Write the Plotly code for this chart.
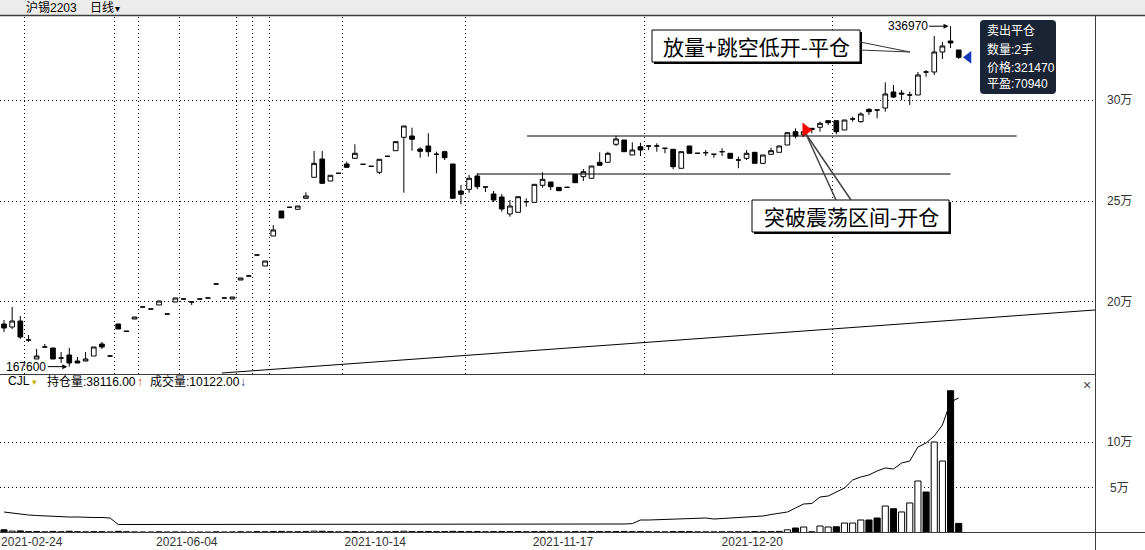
import plotly.graph_objects as go

W, H = 1145, 550

# ---------------- data ----------------
opens = [
    188810, 187320, 190300, 180900, 171400, 177370, 176870, 171900, 173390, 170400,
    170400, 172890, 178860, 172890, 188810, 185330, 191300, 197270, 196270, 198260,
    193790, 199760, 201250, 199760, 201250, 201750, 208710, 201750, 201250, 210700,
    212690, 223140, 217670, 232590, 245030, 246870, 245870, 251350, 261790, 270900,
    259950, 263780, 268410, 271230, 268260, 267260, 264280, 272240, 275030, 281690,
    282340, 275870, 277370, 273300, 274530, 268410, 254980, 255820, 262440, 256970,
    253490, 251990, 243540, 244380, 249660, 249340, 257810, 259460, 256800, 256800,
    263290, 262090, 261300, 269250, 269250, 278210, 280350, 272890, 277030, 277370,
    277370, 276220, 275720, 266270, 277370, 273730, 274030, 273230, 274530, 273730,
    270400, 271230, 274230, 268740, 273230, 274230, 277860, 284480, 283000, 286170,
    286670, 289950, 289950, 285330, 290800, 289470, 295620, 295280, 296270, 304230,
    303730, 302740, 302740, 314180, 314180, 324130, 329600, 325130,
]
highs = [
    190800, 197270, 192790, 183340, 176370, 178860, 176870, 174880, 176870, 172390,
    174880, 177370, 179860, 173390, 188810, 185330, 192290, 197270, 196270, 200250,
    193790, 201750, 201250, 199760, 201250, 201750, 208710, 201750, 202240, 211700,
    212690, 223140, 220150, 238060, 245030, 246870, 247520, 254330, 274880, 274880,
    262790, 263780, 269550, 278210, 268260, 267260, 270750, 272240, 279520, 287310,
    286470, 276720, 283680, 274530, 275030, 268410, 257960, 262940, 263780, 256970,
    254980, 253490, 250500, 252140, 251340, 258300, 264280, 259460, 256800, 256800,
    263290, 265920, 267410, 274230, 274530, 282490, 280350, 279210, 279010, 277370,
    278710, 276220, 275720, 274530, 277370, 273730, 275370, 273230, 276220, 273730,
    272040, 275370, 274230, 272890, 276520, 277370, 283980, 286170, 285500, 286170,
    289470, 289950, 289950, 290300, 291950, 294130, 296120, 295280, 309050, 307710,
    305230, 304400, 314180, 315170, 332090, 329110, 336970, 325130,
]
lows = [
    184830, 186320, 181350, 179860, 171400, 177370, 171400, 169410, 167600, 169410,
    170400, 172890, 176370, 172890, 186320, 185100, 191300, 197270, 196270, 198260,
    193790, 199760, 201250, 198260, 201250, 201750, 208710, 201750, 201250, 210700,
    212690, 223140, 217670, 232590, 241550, 246870, 245870, 251350, 261790, 258790,
    259950, 263780, 266770, 271230, 268260, 267260, 263290, 272240, 275030, 254130,
    275030, 271540, 272040, 263780, 270400, 251350, 248360, 254130, 255820, 254480,
    249510, 244700, 242200, 244380, 247180, 249340, 256620, 255470, 255130, 256800,
    259110, 259950, 261300, 267570, 269250, 277370, 274530, 272890, 272390, 275370,
    274530, 273730, 265770, 266270, 273730, 273730, 272390, 271540, 272390, 271230,
    266270, 270400, 268740, 268740, 272890, 274230, 277860, 281190, 282500, 283680,
    284480, 287810, 283180, 285330, 289470, 288960, 292790, 291150, 294430, 301250,
    300250, 297760, 302740, 311840, 312690, 320650, 326120, 320650,
]
closes = [
    186820, 190300, 182340, 180850, 172890, 177370, 171400, 171900, 169410, 169410,
    171400, 177370, 177370, 172890, 186320, 185100, 192290, 197270, 196270, 200250,
    193790, 201750, 201250, 199760, 201250, 201750, 208710, 201750, 202240, 211700,
    212690, 223140, 220150, 235580, 241550, 246870, 247520, 252490, 268740, 258790,
    262790, 263780, 266770, 273730, 268260, 267260, 270750, 272240, 279520, 287310,
    280700, 274730, 274530, 273230, 271540, 251350, 253340, 261300, 257120, 256970,
    250500, 246020, 247520, 252140, 249660, 258300, 260790, 257120, 255130, 256800,
    259110, 264580, 267410, 267760, 273730, 280850, 274530, 275370, 275370, 277370,
    277370, 276220, 267070, 274530, 273730, 273730, 274030, 273230, 274530, 271230,
    270400, 273730, 268740, 272890, 275030, 277370, 283980, 282340, 284500, 285670,
    288660, 288950, 284480, 290300, 290800, 293290, 294430, 295280, 303240, 301740,
    303240, 302740, 312690, 314180, 324130, 327120, 328610, 321470,
]
volumes = [
    3000, 1500, 1800, 1000, 1100, 800, 1200, 900, 1400, 900, 800, 1000,
    900, 700, 1300, 800, 700, 600, 600, 800, 600, 700, 600, 500,
    600, 500, 800, 600, 700, 900, 700, 1000, 900, 1100, 1200, 900,
    900, 1000, 1500, 1400, 1000, 800, 900, 1000, 800, 700, 900, 800,
    1000, 1400, 1100, 1000, 1100, 900, 1000, 1300, 1100, 1000, 1100, 900,
    1000, 1100, 1000, 1100, 900, 1000, 1100, 1000, 900, 800, 1000, 1000,
    1100, 1000, 1000, 1100, 1200, 1000, 1000, 900, 900, 800, 1000, 1100,
    1000, 800, 800, 800, 900, 800, 900, 800, 1000, 900, 1000, 1200,
    3000, 5000, 6100, 800, 7200, 6100, 6400, 10500, 10500, 13900, 13900,
    16100, 29400, 26400, 22800, 32800, 57200, 45000, 100500, 79400, 157500, 10122,
]
# colour of the last 22 volume bars as seen (u = hollow, d = solid)
vol_dir_tail = ["u", "d", "u", "d", "u", "u", "d", "u", "u", "u", "d",
                "d", "u", "d", "u", "u", "u", "d", "u", "u", "d", "d"]
open_interest = [
    22780, 21670, 20000, 19440, 18890, 18330, 18330, 17780, 17220, 17220,
    16670, 16670, 16670, 16110,
    8890, 8890, 8890, 8890, 8890, 8890, 8890, 8890, 8890, 8890,
    8890, 8890, 8890, 8890, 8890, 8890, 8890, 8890, 8890, 8890,
    8890, 8890, 8890, 8890, 8890, 8890, 8890, 8890, 8890, 8890,
    8890, 8890, 8890, 8890, 8890, 8890, 8890, 8890, 8890, 8890,
    8890, 8890, 8890, 8890, 8890, 8890, 8890, 8890, 8890, 8890,
    8890, 8890, 8890, 8890, 8890, 8890, 8890, 8890, 8890, 8890,
    8890, 8890,
    9440, 9890, 13890, 13890, 14220, 14440, 14670, 15000, 15220, 15550,
    16110, 15000, 15550, 16110, 16330, 16670, 17220, 18330, 20000, 21110,
    22780, 27220, 31670, 32220, 39440, 40550, 45000, 49440, 58330, 61670,
    63890, 68330, 71670, 70550, 77220, 79440, 95000, 99440, 107220, 119440,
    145000, 149440,
]
date_tick_pos = [3.4, 22.4, 45.5, 68.5, 91.7]
date_tick_txt = ["2021-02-24", "2021-06-04", "2021-10-14", "2021-11-17", "2021-12-20"]
month_breaks = [2.5, 13.5, 16.5, 21.5, 28.5, 30.5, 32.5, 41.5, 56.5, 78.5, 101.5]
price_ticks = [200000, 250000, 300000]
price_tick_txt = ["20万", "25万", "30万"]
vol_ticks = [50000, 100000]
vol_tick_txt = ["5万", "10万"]
range_upper = dict(start=64.1, end=124.1, price=282340)
range_lower = dict(start=58.0, end=116.0, price=263430)
trend_x = [26.7, 133.7]
trend_y = [164430, 195780]
buy_signal = dict(i=98, price=285330)
sell_signal = dict(i=117, price=321470, qty=2, pnl=70940)
high_mark = dict(i=116, price=336970)
low_mark = dict(i=8, price=167600)

# ---------------- figure ----------------
n = len(opens)
for arr in (highs, lows, closes, volumes, open_interest):
    assert len(arr) == n, len(arr)
idx = list(range(n))
UI = "Liberation Sans, Noto Sans CJK SC, sans-serif"
CJK_BOLD = "Noto Sans CJK SC, sans-serif"


def px(x):
    return x / W


def py(y):
    return 1 - y / H


vol_dirs = ["u" if c >= o else "d" for o, c in zip(opens, closes)]
vol_dirs[n - len(vol_dir_tail):] = vol_dir_tail
vol_colors = ["white" if d == "u" else "black" for d in vol_dirs]

fig = go.Figure()
fig.add_trace(go.Candlestick(
    x=idx, open=opens, high=highs, low=lows, close=closes,
    increasing=dict(fillcolor="white", line=dict(color="black", width=1)),
    decreasing=dict(fillcolor="black", line=dict(color="black", width=1)),
    whiskerwidth=0, xaxis="x", yaxis="y", hoverinfo="skip", showlegend=False,
))
fig.add_trace(go.Scatter(
    x=idx, y=open_interest, mode="lines", line=dict(color="black", width=1),
    xaxis="x2", yaxis="y2", hoverinfo="skip", showlegend=False,
))
fig.add_trace(go.Bar(
    x=idx, y=volumes, marker=dict(color=vol_colors, line=dict(color="black", width=1)),
    xaxis="x2", yaxis="y2", hoverinfo="skip", showlegend=False,
))
fig.add_trace(go.Scatter(
    x=[buy_signal["i"] + 0.25], y=[buy_signal["price"]], mode="markers",
    marker=dict(symbol="triangle-right", size=13, color="#ff0000"),
    xaxis="x", yaxis="y", hoverinfo="skip", showlegend=False,
))
fig.add_trace(go.Scatter(
    x=[sell_signal["i"] + 1.2], y=[sell_signal["price"]], mode="markers",
    marker=dict(symbol="triangle-left", size=11, color="#1238b8"),
    xaxis="x", yaxis="y", hoverinfo="skip", showlegend=False,
))

xr = [-4 / 8.16, (1095 - 4) / 8.16]
main_dom = [py(374), py(17)]
vol_dom = [py(532.5), py(388)]
yr_main = [350000 - 497.5 * 374, 350000 - 497.5 * 17]
yr_vol = [0, (532.5 - 388) * 1111]

shapes = []
# header band
shapes.append(dict(type="rect", xref="paper", yref="paper", x0=0, x1=1, y0=py(15), y1=1,
                   fillcolor="#ececec", line=dict(width=0), layer="below"))
shapes.append(dict(type="line", xref="paper", yref="paper", x0=0, x1=1, y0=py(15.5), y1=py(15.5),
                   line=dict(color="#3c3c3c", width=1.5)))
shapes.append(dict(type="line", xref="paper", yref="paper", x0=px(1095.5), x1=px(1095.5), y0=py(15.5), y1=0,
                   line=dict(color="#3c3c3c", width=1)))
shapes.append(dict(type="line", xref="paper", yref="paper", x0=0, x1=px(1095.5), y0=py(374.5), y1=py(374.5),
                   line=dict(color="#3c3c3c", width=1)))
shapes.append(dict(type="line", xref="paper", yref="paper", x0=0, x1=1, y0=py(532.5), y1=py(532.5),
                   line=dict(color="#3c3c3c", width=1)))
# range lines and trend line
for r in (range_upper, range_lower):
    shapes.append(dict(type="line", xref="x", yref="y", x0=r["start"], x1=r["end"],
                       y0=r["price"], y1=r["price"], line=dict(color="black", width=1)))
shapes.append(dict(type="line", xref="x", yref="y", x0=trend_x[0], x1=trend_x[1],
                   y0=trend_y[0], y1=trend_y[1], line=dict(color="black", width=1)))


# callout boxes
def callout_box(x0, y0, x1, y1):
    shapes.append(dict(type="rect", xref="paper", yref="paper", x0=px(x0 + 2), x1=px(x1 + 2),
                       y0=py(y1 + 2), y1=py(y0 + 2), fillcolor="black", line=dict(width=0)))
    shapes.append(dict(type="rect", xref="paper", yref="paper", x0=px(x0), x1=px(x1),
                       y0=py(y1), y1=py(y0), fillcolor="white", line=dict(color="black", width=1)))


def seg(x0, y0, x1, y1, color="#333", width=1):
    shapes.append(dict(type="line", xref="paper", yref="paper", x0=px(x0), x1=px(x1),
                       y0=py(y0), y1=py(y1), line=dict(color=color, width=width)))


callout_box(652, 30, 860, 62)
seg(860, 42, 910, 52)
seg(860, 50, 910, 52)
callout_box(752, 200, 949, 232)
seg(806, 134, 836, 200, "#444", 1.5)
seg(806, 134, 851, 200, "#444", 1.5)

# tooltip (rounded rectangle)
tx0, ty0, tx1, ty1, rr = 980, 20, 1056, 94, 4
path = (f"M {px(tx0 + rr)},{py(ty0)} L {px(tx1 - rr)},{py(ty0)} "
        f"Q {px(tx1)},{py(ty0)} {px(tx1)},{py(ty0 + rr)} L {px(tx1)},{py(ty1 - rr)} "
        f"Q {px(tx1)},{py(ty1)} {px(tx1 - rr)},{py(ty1)} L {px(tx0 + rr)},{py(ty1)} "
        f"Q {px(tx0)},{py(ty1)} {px(tx0)},{py(ty1 - rr)} L {px(tx0)},{py(ty0 + rr)} "
        f"Q {px(tx0)},{py(ty0)} {px(tx0 + rr)},{py(ty0)} Z")
shapes.append(dict(type="path", xref="paper", yref="paper", path=path,
                   fillcolor="#1b2434", line=dict(width=0)))

ann = []


def txt(x, y, s, size=12, color="#000", anchor="left", family=UI):
    ann.append(dict(x=px(x), y=py(y), xref="paper", yref="paper", text=s, showarrow=False,
                    xanchor=anchor, yanchor="middle", font=dict(size=size, color=color, family=family)))


txt(24, 8, "沪锡2203")
txt(88, 8, "日线")
txt(113, 9, "▾", size=10)
txt(6, 381, "CJL")
txt(30, 382, "▾", size=9, color="#c8b400")
txt(45, 381, "持仓量:38116.00")
txt(135, 382, "↑", color="#e04010")
txt(148, 381, "成交量:10122.00")
txt(238, 382, "↓", color="#1a3a9a")
txt(1087, 385, "×", size=14, color="#444", anchor="center")
txt(756, 46, "放量+跳空低开-平仓", size=21, family=CJK_BOLD, anchor="center")
txt(851, 216, "突破震荡区间-开仓", size=21, family=CJK_BOLD, anchor="center")
txt(985, 31, "卖出平仓", color="white")
txt(985, 49, f"数量:{sell_signal['qty']}手", color="white")
txt(985, 67, f"价格:{sell_signal['price']}", color="white")
txt(985, 84, f"平盈:{sell_signal['pnl']}", color="white")

for v, t in zip(price_ticks, price_tick_txt):
    ann.append(dict(x=px(1119), y=v, xref="paper", yref="y", text=t, showarrow=False,
                    xanchor="center", yanchor="middle", font=dict(size=12, color="#333", family=UI)))
for v, t in zip(vol_ticks, vol_tick_txt):
    ann.append(dict(x=px(1119), y=v, xref="paper", yref="y2", text=t, showarrow=False,
                    xanchor="center", yanchor="middle", font=dict(size=12, color="#333", family=UI)))

for m in (high_mark, low_mark):
    ann.append(dict(x=m["i"], y=m["price"], xref="x", yref="y", text=str(m["price"]),
                    showarrow=True, arrowhead=2, arrowsize=1, arrowwidth=1, arrowcolor="black",
                    ax=-43, ay=0, standoff=2, font=dict(size=12, color="#000", family=UI)))

fig.update_layout(
    width=W, height=H, margin=dict(l=0, r=0, t=0, b=0),
    paper_bgcolor="white", plot_bgcolor="white", showlegend=False,
    boxgap=0.18, bargap=0.25,
    shapes=shapes, annotations=ann,
    xaxis=dict(domain=[0, px(1095)], range=xr, anchor="y", showticklabels=False,
               showgrid=False, zeroline=False, showline=False, ticks="",
               rangeslider=dict(visible=False), fixedrange=True,
               minor=dict(tickmode="array", tickvals=month_breaks, showgrid=True,
                          gridcolor="#000", griddash="1px,3px", gridwidth=1, ticks="")),
    yaxis=dict(domain=main_dom, range=yr_main, anchor="x", tickmode="array",
               tickvals=price_ticks, showticklabels=False, showgrid=True,
               gridcolor="#000", griddash="1px,3px", gridwidth=1, zeroline=False,
               showline=False, ticks="", fixedrange=True),
    xaxis2=dict(domain=[0, px(1095)], range=xr, anchor="y2", tickmode="array",
                tickvals=date_tick_pos, ticktext=date_tick_txt, showgrid=False,
                zeroline=False, showline=False, ticks="",
                tickfont=dict(size=12, color="#333", family=UI), fixedrange=True,
                automargin=False),
    yaxis2=dict(domain=vol_dom, range=yr_vol, anchor="x2", tickmode="array",
                tickvals=vol_ticks, showticklabels=False, showgrid=True,
                gridcolor="#000", griddash="1px,3px", gridwidth=1, zeroline=False,
                showline=False, ticks="", fixedrange=True),
)

fig.write_html("out.html", config={"displayModeBar": False},
               post_script="document.body.style.margin='0';document.body.style.overflow='hidden';")
